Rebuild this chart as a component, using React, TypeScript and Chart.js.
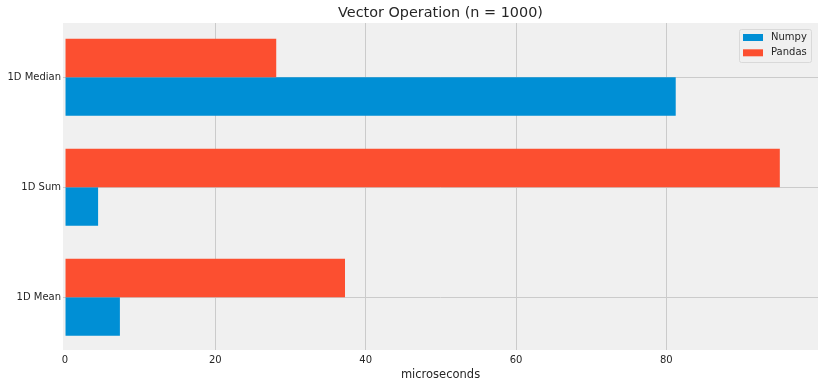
import React, { useEffect, useRef } from 'react';
import { Chart, registerables } from 'chart.js';

Chart.register(...registerables);

const categories = ['1D Median', '1D Sum', '1D Mean'];
const seriesNames = ['Numpy', 'Pandas'];
const numpyValues = [81.25, 4.4, 7.3];
const pandasValues = [28.1, 95.1, 37.25];
const xTickValues = [0, 20, 40, 60, 80];
const titleText = 'Vector Operation (n = 1000)';
const xAxisLabel = 'microseconds';

const seriesColors: Record<string, string> = { Numpy: '#008fd5', Pandas: '#fc4f30' };
const FONT = "'DejaVu Sans', sans-serif";
const TEXT = '#262626';

const bgPlugin = {
  id: 'axesBg',
  beforeDraw(chart: any) {
    const { ctx, chartArea } = chart;
    ctx.save();
    ctx.fillStyle = '#f0f0f0';
    ctx.fillRect(chartArea.left, chartArea.top, chartArea.right - chartArea.left, chartArea.bottom - chartArea.top);
    ctx.restore();
  },
};

const titlePlugin = {
  id: 'axesTitle',
  afterDraw(chart: any) {
    const { ctx, chartArea } = chart;
    ctx.save();
    ctx.font = `14.4px ${FONT}`;
    ctx.fillStyle = TEXT;
    ctx.textAlign = 'center';
    ctx.textBaseline = 'middle';
    ctx.fillText(titleText, (chartArea.left + chartArea.right) / 2, 13);
    ctx.restore();
  },
};

const legendPlugin = {
  id: 'boxLegend',
  afterDraw(chart: any) {
    const { ctx, chartArea } = chart;
    const w = 72;
    const h = 33;
    const x = chartArea.right - 7 - w;
    const y = chartArea.top + 6;
    ctx.save();
    ctx.beginPath();
    if (ctx.roundRect) ctx.roundRect(x + 0.5, y + 0.5, w, h, 2);
    else ctx.rect(x + 0.5, y + 0.5, w, h);
    ctx.fillStyle = 'rgba(240,240,240,0.85)';
    ctx.fill();
    ctx.strokeStyle = '#d9d9d9';
    ctx.lineWidth = 1;
    ctx.stroke();
    ctx.font = `10px ${FONT}`;
    ctx.textAlign = 'left';
    ctx.textBaseline = 'middle';
    seriesNames.forEach((name, i) => {
      const cy = y + 8.5 + i * 15.3;
      ctx.fillStyle = seriesColors[name];
      ctx.fillRect(x + 4, cy - 3.5, 20, 7);
      ctx.fillStyle = TEXT;
      ctx.fillText(name, x + 32, cy);
    });
    ctx.restore();
  },
};

export default function App() {
  const canvasRef = useRef<HTMLCanvasElement | null>(null);

  useEffect(() => {
    document.body.style.margin = '0';
    const canvas = canvasRef.current;
    if (!canvas) return;
    Chart.defaults.font.family = FONT;
    const chart = new Chart(canvas, {
      type: 'bar',
      data: {
        datasets: [
          {
            label: 'Pandas',
            data: pandasValues.map((v, i) => ({ x: v, y: i })),
            backgroundColor: seriesColors.Pandas,
            borderWidth: 0,
          },
          {
            label: 'Numpy',
            data: numpyValues.map((v, i) => ({ x: v, y: i })),
            backgroundColor: seriesColors.Numpy,
            borderWidth: 0,
          },
        ],
      },
      options: {
        indexAxis: 'y',
        animation: false,
        responsive: false,
        layout: { padding: { top: 23, right: 5, left: 0, bottom: 0 } },
        datasets: { bar: { categoryPercentage: 0.7, barPercentage: 1 } },
        plugins: {
          legend: { display: false },
          title: { display: false },
          tooltip: { enabled: false },
        },
        scales: {
          x: {
            type: 'linear',
            min: -0.27,
            max: 100.18,
            afterBuildTicks: (scale: any) => {
              scale.ticks = xTickValues.map((v) => ({ value: v }));
            },
            afterFit: (scale: any) => {
              scale.height = 38;
            },
            grid: {
              color: (ctx: any) => (ctx.tick && ctx.tick.value === 0 ? 'rgba(0,0,0,0)' : '#cbcbcb'),
              lineWidth: 1,
              drawTicks: false,
            },
            border: { display: false },
            ticks: {
              padding: 4,
              color: TEXT,
              font: { size: 10, family: FONT },
              callback: (v: any) => String(v),
            },
            title: {
              display: true,
              text: xAxisLabel,
              color: TEXT,
              font: { size: 11.5, family: FONT },
              padding: { top: 0, bottom: 6 },
            },
          },
          y: {
            type: 'linear',
            reverse: true,
            offset: false,
            min: -0.493,
            max: categories.length - 1 + 0.48,
            afterBuildTicks: (scale: any) => {
              scale.ticks = categories.map((_, i) => ({ value: i }));
            },
            afterFit: (scale: any) => {
              scale.width = 63;
            },
            grid: {
              offset: false,
              color: '#cbcbcb',
              lineWidth: 1,
              drawTicks: false,
            },
            border: { display: false },
            ticks: {
              padding: 2,
              color: TEXT,
              font: { size: 10, family: FONT },
              callback: (v: any) => categories[v] ?? '',
            },
          },
        },
      },
      plugins: [bgPlugin, titlePlugin, legendPlugin],
    } as any);
    return () => chart.destroy();
  }, []);

  return (
    <div style={{ width: 823, height: 388 }}>
      <canvas ref={canvasRef} width={823} height={388} />
    </div>
  );
}
